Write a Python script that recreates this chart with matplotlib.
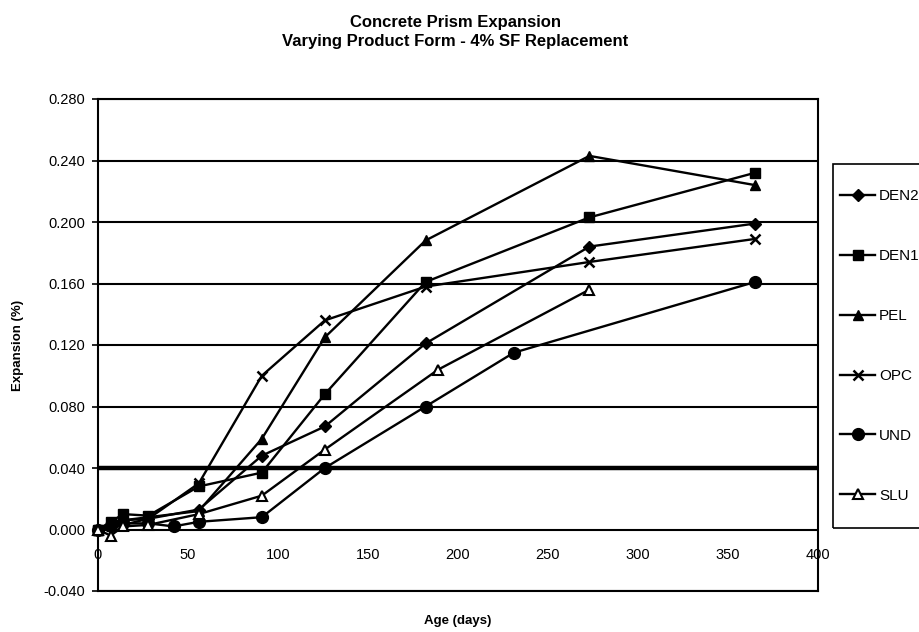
import matplotlib
matplotlib.use("Agg")
import matplotlib.pyplot as plt
from matplotlib.patches import Rectangle

# expansion readings (%) by age (days)
den2_age = [0, 7, 14, 28, 56, 91, 126, 182, 273, 365]
den2_exp = [0.000, 0.003, 0.006, 0.007, 0.013, 0.048, 0.067, 0.121, 0.184, 0.199]

den1_age = [0, 7, 14, 28, 56, 91, 126, 182, 273, 365]
den1_exp = [0.000, 0.005, 0.010, 0.009, 0.028, 0.037, 0.088, 0.161, 0.203, 0.232]

pel_age = [0, 7, 14, 28, 56, 91, 126, 182, 273, 365]
pel_exp = [0.000, 0.004, 0.006, 0.008, 0.012, 0.059, 0.125, 0.188, 0.243, 0.224]

opc_age = [0, 7, 14, 28, 56, 91, 126, 182, 273, 365]
opc_exp = [0.000, 0.002, 0.003, 0.007, 0.030, 0.100, 0.136, 0.158, 0.174, 0.189]

und_age = [0, 7, 14, 28, 42, 56, 91, 126, 182, 231, 365]
und_exp = [0.000, 0.002, 0.004, 0.004, 0.002, 0.005, 0.008, 0.040, 0.080, 0.115, 0.161]

slu_age = [0, 7, 14, 28, 56, 91, 126, 189, 273]
slu_exp = [0.000, -0.004, 0.002, 0.003, 0.010, 0.022, 0.052, 0.104, 0.156]

x_ticks = [0, 50, 100, 150, 200, 250, 300, 350, 400]
y_ticks = [-0.04, 0.0, 0.04, 0.08, 0.12, 0.16, 0.20, 0.24, 0.28]

plt.rcParams["font.family"] = ["Liberation Sans", "DejaVu Sans"]

fig = plt.figure(figsize=(9.2, 6.32), dpi=100)
ax = fig.add_axes([98 / 920, 1 - 591 / 632, 720 / 920, 492 / 632])

series = [
    ("DEN2", den2_age, den2_exp, dict(marker="D", ms=6.5, mfc="black")),
    ("DEN1", den1_age, den1_exp, dict(marker="s", ms=7, mfc="black")),
    ("PEL", pel_age, pel_exp, dict(marker="^", ms=7.5, mfc="black")),
    ("OPC", opc_age, opc_exp, dict(marker="x", ms=7, mew=1.8)),
    ("UND", und_age, und_exp, dict(marker="o", ms=8.5, mfc="black")),
    ("SLU", slu_age, slu_exp, dict(marker="^", ms=7.5, mfc="white", mew=1.5)),
]
for name, xs, ys, style in series:
    ax.plot(xs, ys, color="black", lw=1.7, mec="black", label=name,
            zorder=3, clip_on=False, **style)

ax.set_xlim(0, 400)
ax.set_ylim(-0.04, 0.28)
ax.set_xticks(x_ticks)
ax.set_yticks(y_ticks)
ax.set_yticklabels([f"{v:.3f}" for v in y_ticks])

ax.grid(axis="y", color="black", lw=1.5, zorder=1)
ax.get_ygridlines()[2].set_linewidth(3.2)

for side in ["left", "right", "top", "bottom"]:
    ax.spines[side].set_linewidth(1.5)

ax.tick_params(axis="y", length=4, width=1.2, pad=5, labelsize=10.5)
ax.tick_params(axis="x", length=0, pad=-31, labelsize=10.5)

ax.set_ylabel("Expansion (%)", fontsize=9.5, fontweight="bold", labelpad=14)
ax.set_xlabel("Age (days)", fontsize=9.5, fontweight="bold", labelpad=17)

fig.text(0.495, 1 - 32 / 632, "Concrete Prism Expansion\nVarying Product Form - 4% SF Replacement",
         ha="center", va="center", fontsize=12, fontweight="bold", linespacing=1.3)

# legend box on the right
fig.patches.append(Rectangle((833 / 920, 1 - 528 / 632), 0.2, 364 / 632,
                             transform=fig.transFigure, fill=False,
                             lw=1.2, ec="black"))
fig.legend(loc="center left", bbox_to_anchor=(840 / 920, 1 - 346 / 632),
           frameon=False, fontsize=11, handlelength=2.3, handletextpad=0.25,
           labelspacing=3.0, borderpad=0, borderaxespad=0)

fig.savefig("out.png", dpi=100)
